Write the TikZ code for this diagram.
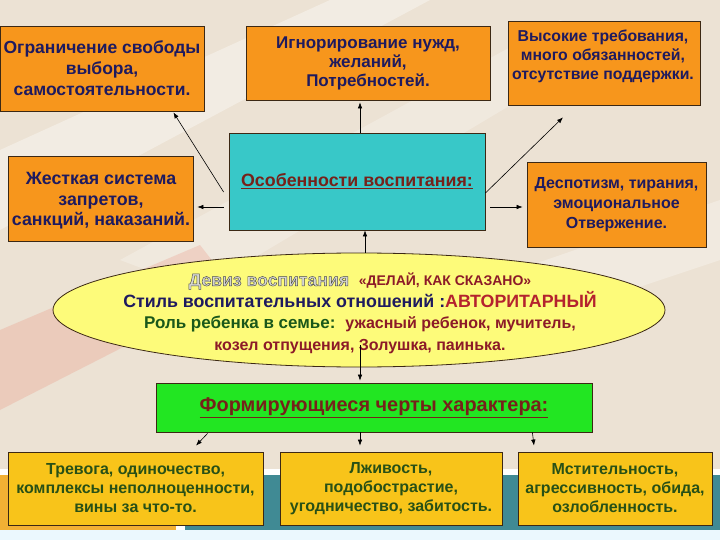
\documentclass[tikz,border=0pt]{standalone}
\usepackage{fontspec}
\setmainfont{Liberation Sans}
\usetikzlibrary{arrows.meta,shapes.geometric,calc}
\definecolor{bgC}{RGB}{236,226,212}
\definecolor{orangeC}{RGB}{247,150,28}
\definecolor{navyC}{RGB}{30,26,95}
\definecolor{cyanC}{RGB}{56,200,200}
\definecolor{titleC}{RGB}{118,34,26}
\definecolor{ellC}{RGB}{253,251,122}
\definecolor{greenC}{RGB}{34,230,34}
\definecolor{goldC}{RGB}{248,196,26}
\definecolor{olivC}{RGB}{40,80,22}
\definecolor{dgreenC}{RGB}{26,88,26}
\definecolor{dredC}{RGB}{140,26,40}
\definecolor{crimC}{RGB}{180,34,46}
\definecolor{devizC}{RGB}{214,214,210}
\definecolor{tealC}{RGB}{64,138,148}
\definecolor{stripC}{RGB}{242,176,52}
\definecolor{edgeC}{RGB}{60,40,20}
\newcommand\outlined[1]{\special{pdf:literal direct 2 Tr 0.45 w 0.3 0.3 0.3 RG}#1\special{pdf:literal direct 0 Tr}}
\begin{document}
\begin{tikzpicture}[x=1pt,y=-1pt,
  boxbase/.style={draw=edgeC, line width=0.8pt, align=center, inner sep=0pt},
  obox/.style={boxbase, fill=orangeC, text=navyC, font=\bfseries\fontsize{17.5}{21}\selectfont},
  gbox/.style={boxbase, fill=goldC, text=olivC, font=\bfseries\fontsize{16}{19}\selectfont},
  arr/.style={-{Latex[length=6pt,width=4.5pt]}, line width=0.6pt, black}]
\useasboundingbox (0,0) rectangle (720,540);
% background
\fill[bgC] (0,0) rectangle (720,540);
\fill[white, opacity=0.35] (0,150) -- (330,0) -- (430,0) -- (0,230) -- cycle;
\fill[white, opacity=0.25] (120,260) -- (560,20) -- (620,40) -- (200,290) -- cycle;
\fill[white, opacity=0.3] (430,300) -- (720,200) -- (720,260) -- (480,340) -- cycle;
\fill[red!60!brown, opacity=0.13] (0,330) -- (200,245) -- (235,290) -- (0,410) -- cycle;
\fill[white] (0,469) rectangle (720,475);
\fill[stripC] (0,475) rectangle (176,530);
\fill[white] (176,475) rectangle (185,530);
\fill[tealC] (185,475) rectangle (720,530);
\fill[cyan!8!white] (0,530) rectangle (720,540);
% top boxes
\node[obox, minimum width=204, minimum height=85] (b1) at (102,68.5)
  {Ограничение свободы\\выбора,\\самостоятельности.};
\node[obox, minimum width=244, minimum height=74, font=\bfseries\fontsize{17}{19}\selectfont] (b2) at (368,63)
  {Игнорирование нужд,\\желаний,\\Потребностей.};
\node[obox, minimum width=192, minimum height=84] (b3) at (604,63) {};
\node[align=center, inner sep=0pt, text=navyC, font=\bfseries\fontsize{15.8}{19}\selectfont] (b3t) at (603,56.5)
  {Высокие требования,\\много обязанностей,\\отсутствие поддержки.};
\node[boxbase, fill=cyanC, minimum width=256, minimum height=97, text=titleC,
  font=\bfseries\fontsize{17.8}{20}\selectfont] (c) at (357,181.5)
  {\underline{Особенности воспитания:}};
\node[obox, minimum width=185, minimum height=85] (b5) at (100.5,198.5) {};
\node[align=center, inner sep=0pt, text=navyC, font=\bfseries\fontsize{17.8}{20.5}\selectfont] (b5t) at (101,201)
  {Жесткая система\\запретов,\\санкций, наказаний.};
\node[obox, minimum width=179, minimum height=85, font=\bfseries\fontsize{16}{20}\selectfont] (b6) at (616.5,204.5)
  {Деспотизм, тирания,\\эмоциональное\\Отвержение.};
% ellipse
\node[draw=edgeC, line width=0.8pt, fill=ellC, ellipse, minimum width=612, minimum height=114, inner sep=0pt] (e) at (359,310) {};
\node[align=center, inner sep=0pt, font=\bfseries\fontsize{17.8}{21.5}\selectfont] (et) at (360,313.5)
  {{\fontsize{17.6}{21.5}\selectfont\color{devizC}\outlined{Девиз воспитания}}\ \ {\color{dredC}\fontsize{14}{21.5}\selectfont«ДЕЛАЙ, КАК СКАЗАНО»}\\
   {\color{navyC}Стиль воспитательных отношений :}{\color{crimC}АВТОРИТАРНЫЙ}\\
   {\color{dgreenC}\fontsize{17}{21.5}\selectfont Роль ребенка в семье:}\ \ {\color{dredC}\fontsize{16}{21.5}\selectfont ужасный ребенок, мучитель,}\\
   {\color{dredC}\fontsize{16}{21.5}\selectfont козел отпущения, Золушка, паинька.}};
% green box
\node[boxbase, fill=greenC, minimum width=436, minimum height=49, text=titleC,
  font=\bfseries\fontsize{19.9}{22}\selectfont] (g) at (374,407.5)
  {\underline{Формирующиеся черты характера:}};
% bottom boxes
\node[gbox, minimum width=255, minimum height=73] (k1) at (135.5,488.5)
  {Тревога, одиночество,\\комплексы неполноценности,\\вины за что-то.};
\node[gbox, minimum width=222, minimum height=73] (k2) at (391,488.5)
  {Лживость,\\подобострастие,\\угодничество, забитость.};
\node[gbox, minimum width=194, minimum height=73] (k3) at (615,488.5)
  {Мстительность,\\агрессивность, обида,\\озлобленность.};
% connectors
\draw[arr] ($(c.west)+(-5,10.5)$) -- ($(b1.south east)+(-31,1)$);
\draw[arr] ($(c.west)+(-5,25.5)$) -- ($(b5.east)+(4,8.5)$);
\draw[arr] ($(c.north)+(3,0)$) -- ($(b2.south)+(-8,2)$);
\draw[arr] ($(c.east)+(0,11.5)$) -- ($(b3.south)+(-41,12)$);
\draw[arr] ($(c.east)+(5,25.5)$) -- ($(b6.west)+(-4,2.5)$);
\draw[arr] ($(e.north)+(6,0)$) -- ($(c.south)+(8,0)$);
\draw[arr] ($(e.south)+(1,-22)$) -- ($(g.north)+(-14,-2)$);
\draw[arr] ($(g.south west)+(52,1)$) -- ($(k1.north)+(60.5,-6)$);
\draw[arr] ($(g.south)+(-14,0)$) -- ($(k2.north)+(-31,-6)$);
\draw[arr] ($(g.south east)+(-60,0)$) -- ($(k3.north)+(-81,-6)$);
\end{tikzpicture}
\end{document}
